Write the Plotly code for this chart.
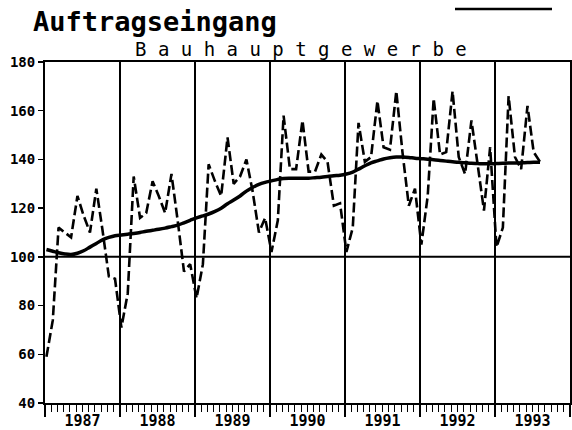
import plotly.graph_objects as go

# ---- data ----
years = [1987, 1988, 1989, 1990, 1991, 1992, 1993]

orders_1987 = [59, 74, 112, 110, 108, 125, 117, 110, 128, 111, 92, 91]
orders_1988 = [71, 85, 133, 116, 118, 131, 125, 118, 134, 115, 94, 97]
orders_1989 = [83, 97, 138, 131, 125, 149, 130, 133, 140, 127, 110, 116]
orders_1990 = [102, 115, 158, 136, 136, 156, 135, 135, 142, 139, 121, 122]
orders_1991 = [102, 112, 155, 139, 141, 164, 145, 144, 168, 143, 121, 128]
orders_1992 = [105, 125, 165, 142, 143, 168, 141, 134, 156, 138, 119, 145]
orders_1993 = [104, 112, 166, 141, 136, 162, 143, 139]

trend_1987 = [103, 102.3, 101.7, 101.2, 101, 101.5, 102.5, 104, 105.5, 107, 108, 108.7]
trend_1988 = [109, 109.3, 109.6, 110, 110.5, 110.9, 111.3, 111.8, 112.4, 113, 114, 115]
trend_1989 = [116, 116.8, 117.6, 118.7, 120, 121.8, 123.3, 125, 127, 128.5, 129.8, 130.6]
trend_1990 = [131.2, 131.8, 132.2, 132.3, 132.3, 132.3, 132.3, 132.5, 132.7, 133, 133.3, 133.5]
trend_1991 = [134, 134.8, 136, 137.4, 138.6, 139.4, 140.2, 140.7, 141, 141, 140.8, 140.5]
trend_1992 = [140.3, 140.1, 139.9, 139.6, 139.3, 139, 138.8, 138.6, 138.4, 138.3, 138.2, 138.2]
trend_1993 = [138.3, 138.4, 138.5, 138.5, 138.6, 138.7, 138.8, 138.8]

y_ticks = [40, 60, 80, 100, 120, 140, 160, 180]
reference_level = 100

title_text = "Auftragseingang"
subtitle_text = "B a u h a u p t g e w e r b e"

orders = (orders_1987 + orders_1988 + orders_1989 + orders_1990
          + orders_1991 + orders_1992 + orders_1993)
trend = (trend_1987 + trend_1988 + trend_1989 + trend_1990
         + trend_1991 + trend_1992 + trend_1993)


def month_dates(n):
    out = []
    for i in range(n):
        y = years[0] + i // 12
        m = i % 12 + 1
        out.append(f"{y}-{m:02d}-08")
    return out


dates = month_dates(len(orders))
dates_trend = month_dates(len(trend))

MONO = "DejaVu Sans Mono"

fig = go.Figure()
fig.add_trace(go.Scatter(
    x=dates, y=orders, mode="lines",
    line=dict(color="black", width=2.6, dash="10px,4px"),
    showlegend=False, hoverinfo="skip"))
fig.add_trace(go.Scatter(
    x=dates_trend, y=trend, mode="lines",
    line=dict(color="black", width=3.5, shape="spline"),
    showlegend=False, hoverinfo="skip"))

fig.add_hline(y=reference_level, line=dict(color="black", width=2))

fig.update_layout(
    width=572, height=430,
    margin=dict(l=45, r=2, t=62, b=27, autoexpand=False),
    paper_bgcolor="white", plot_bgcolor="white",
    showlegend=False,
    xaxis=dict(
        type="date", automargin=False,
        range=[f"{years[0]}-01-01", f"{years[-1] + 1}-01-01"],
        tick0=f"{years[0]}-01-01", dtick="M12", tickformat="%Y",
        ticklabelmode="period", ticklabelstandoff=-9,
        ticks="outside", ticklen=12, tickwidth=1.5, tickcolor="black",
        showgrid=True, gridcolor="black", gridwidth=1.5,
        showline=True, linecolor="black", linewidth=2, mirror=True,
        zeroline=False,
        minor=dict(dtick="M1", ticks="outside", ticklen=7, tickwidth=1,
                   tickcolor="black", showgrid=False),
        tickfont=dict(family=MONO, size=15, color="black", weight="bold"),
    ),
    yaxis=dict(
        automargin=False,
        range=[40, 180], tickmode="array", tickvals=y_ticks,
        ticks="outside", ticklen=5, tickwidth=1.5, tickcolor="black",
        showgrid=False, zeroline=False,
        showline=True, linecolor="black", linewidth=2, mirror=True,
        tickfont=dict(family=MONO, size=14, color="black", weight="bold"),
    ),
)

fig.add_annotation(
    text=title_text, xref="paper", yref="paper",
    x=(31 - 45) / 525, y=1 + (62 - 21) / 341,
    xanchor="left", yanchor="middle", showarrow=False,
    font=dict(family=MONO, size=27, color="black", weight="bold"))
fig.add_annotation(
    text=subtitle_text, xref="paper", yref="paper",
    x=(133 - 45) / 525, y=1 + (62 - 49) / 341,
    xanchor="left", yanchor="middle", showarrow=False,
    font=dict(family=MONO, size=19, color="black"))

fig.add_shape(type="line", xref="paper", yref="paper",
              x0=(455 - 45) / 525, x1=(552 - 45) / 525,
              y0=1 + (62 - 9) / 341, y1=1 + (62 - 9) / 341,
              line=dict(color="black", width=2.5))

fig.write_html(
    "out.html",
    config={"displayModeBar": False, "staticPlot": True},
    post_script="document.body.style.margin='0';document.body.style.padding='0';",
)
